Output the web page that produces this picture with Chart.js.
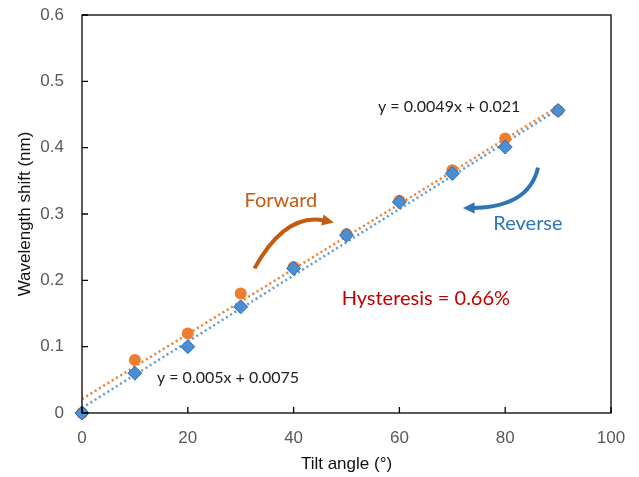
<!DOCTYPE html>
<html>
<head>
<meta charset="utf-8">
<script src="https://cdn.jsdelivr.net/npm/chart.js@4/dist/chart.umd.min.js"></script>
<style>
  html, body { margin: 0; padding: 0; background: #fff; }
  #wrap { width: 639px; height: 477px; }
</style>
</head>
<body>
<div id="wrap"><canvas id="shift-chart"></canvas></div>
<script>
// Tilt angles (deg) and measured wavelength shift (nm)
const angles = [0, 10, 20, 30, 40, 50, 60, 70, 80, 90];
const forwardShift = [0, 0.08, 0.12, 0.18, 0.22, 0.27, 0.32, 0.366, 0.414, 0.456];
const reverseShift = [0, 0.06, 0.10, 0.16, 0.218, 0.268, 0.318, 0.361, 0.401, 0.456];

// Linear trendline end points (from the fitted equations)
const fitX = [0, 90];
const forwardFit = [0.021, 0.462];
const reverseFit = [0.0075, 0.4575];

const xTicks = [0, 20, 40, 60, 80, 100];
const yTicks = [0, 0.1, 0.2, 0.3, 0.4, 0.5, 0.6];

const orange = '#ED7D31';
const blue = '#5B9BD5';
const axisFont = '"Liberation Sans", Arial, sans-serif';
const noteFont = 'Lato, "Open Sans", sans-serif';

function toPoints(xs, ys) {
  return xs.map((x, i) => ({ x: x, y: ys[i] }));
}

// Frame, inward tick marks and the text/arrow notes
const notesPlugin = {
  id: 'notes',
  afterDraw(chart) {
    const ctx = chart.ctx;
    const a = chart.chartArea;
    const xs = chart.scales.x, ys = chart.scales.y;
    const px = v => xs.getPixelForValue(v);
    const py = v => ys.getPixelForValue(v);

    ctx.save();
    ctx.strokeStyle = '#000';
    ctx.lineWidth = 1.3;
    ctx.strokeRect(a.left, a.top, a.right - a.left, a.bottom - a.top);
    ctx.beginPath();
    xTicks.forEach(t => { ctx.moveTo(px(t), a.bottom); ctx.lineTo(px(t), a.bottom - 6); });
    yTicks.forEach(t => { ctx.moveTo(a.left, py(t)); ctx.lineTo(a.left + 6, py(t)); });
    ctx.stroke();

    ctx.textAlign = 'center';
    ctx.textBaseline = 'middle';
    ctx.font = '16px ' + noteFont;
    ctx.fillStyle = '#222';
    ctx.fillText('y = 0.0049x + 0.021', px(69.4), py(0.4615));
    ctx.fillText('y = 0.005x + 0.0075', px(27.6), py(0.053));

    ctx.font = '20px ' + noteFont;
    ctx.fillStyle = '#C55A11';
    ctx.fillText('Forward', px(37.6), py(0.32));
    ctx.fillStyle = '#2E75B6';
    ctx.fillText('Reverse', px(84.3), py(0.286));
    ctx.fillStyle = '#C00000';
    ctx.fillText('Hysteresis = 0.66%', px(65), py(0.172));

    drawArrow(ctx, px(32.6), py(0.218), px(38.5), py(0.303), px(47.6), py(0.287), '#C55A11');
    drawArrow(ctx, px(86.2), py(0.37), px(84.5), py(0.31), px(72), py(0.309), '#2E75B6');
    ctx.restore();
  }
};

function drawArrow(ctx, x0, y0, cx, cy, x1, y1, color) {
  const ang = Math.atan2(y1 - cy, x1 - cx);
  const head = 13;
  const ex = x1 - Math.cos(ang) * head * 0.7;
  const ey = y1 - Math.sin(ang) * head * 0.7;
  ctx.strokeStyle = color;
  ctx.fillStyle = color;
  ctx.lineWidth = 4;
  ctx.lineCap = 'butt';
  ctx.beginPath();
  ctx.moveTo(x0, y0);
  ctx.quadraticCurveTo(cx, cy, ex, ey);
  ctx.stroke();
  ctx.beginPath();
  ctx.moveTo(x1, y1);
  ctx.lineTo(x1 - Math.cos(ang - 0.45) * head, y1 - Math.sin(ang - 0.45) * head);
  ctx.lineTo(x1 - Math.cos(ang + 0.45) * head, y1 - Math.sin(ang + 0.45) * head);
  ctx.closePath();
  ctx.fill();
}

const ctx = document.getElementById('shift-chart').getContext('2d');
new Chart(ctx, {
  type: 'scatter',
  data: {
    datasets: [
      {
        label: 'Reverse',
        data: toPoints(angles, reverseShift),
        pointStyle: 'rectRot',
        pointRadius: 7,
        backgroundColor: '#4A8FD6',
        borderColor: '#2E6CB0',
        borderWidth: 1,
        clip: false,
        order: 0
      },
      {
        label: 'Forward',
        data: toPoints(angles, forwardShift),
        pointStyle: 'circle',
        pointRadius: 6,
        backgroundColor: orange,
        borderColor: orange,
        borderWidth: 0,
        clip: false,
        order: 1
      },
      {
        label: 'Forward fit',
        data: toPoints(fitX, forwardFit),
        showLine: true,
        pointRadius: 0,
        borderColor: orange,
        borderWidth: 2.5,
        borderDash: [2, 3],
        order: 2
      },
      {
        label: 'Reverse fit',
        data: toPoints(fitX, reverseFit),
        showLine: true,
        pointRadius: 0,
        borderColor: blue,
        borderWidth: 2.5,
        borderDash: [2, 3],
        order: 3
      }
    ]
  },
  options: {
    responsive: true,
    maintainAspectRatio: false,
    animation: false,
    layout: { padding: { left: 0, top: 15, right: 28, bottom: 0 } },
    plugins: {
      legend: { display: false },
      tooltip: { enabled: false }
    },
    scales: {
      x: {
        type: 'linear',
        min: 0,
        max: 100,
        afterBuildTicks: s => { s.ticks = xTicks.map(v => ({ value: v })); },
        afterFit: s => { s.height = 64; s.paddingLeft = 0; s.paddingRight = 0; },
        grid: { display: false },
        border: { display: false },
        ticks: { color: '#595959', font: { size: 17, family: axisFont }, padding: 7 },
        title: { display: true, text: 'Tilt angle (°)', color: '#111', font: { size: 17, family: axisFont }, padding: { top: 0, bottom: 2 } }
      },
      y: {
        type: 'linear',
        min: 0,
        max: 0.6,
        afterBuildTicks: s => { s.ticks = yTicks.map(v => ({ value: v })); },
        afterFit: s => { s.width = 82; s.paddingTop = 0; s.paddingBottom = 0; },
        grid: { display: false },
        border: { display: false },
        ticks: { color: '#595959', font: { size: 17, family: axisFont }, padding: 10 },
        title: { display: true, text: 'Wavelength shift (nm)', color: '#111', font: { size: 17, family: axisFont }, padding: { top: 15, bottom: 0 } }
      }
    }
  },
  plugins: [notesPlugin]
});
</script>
</body>
</html>
